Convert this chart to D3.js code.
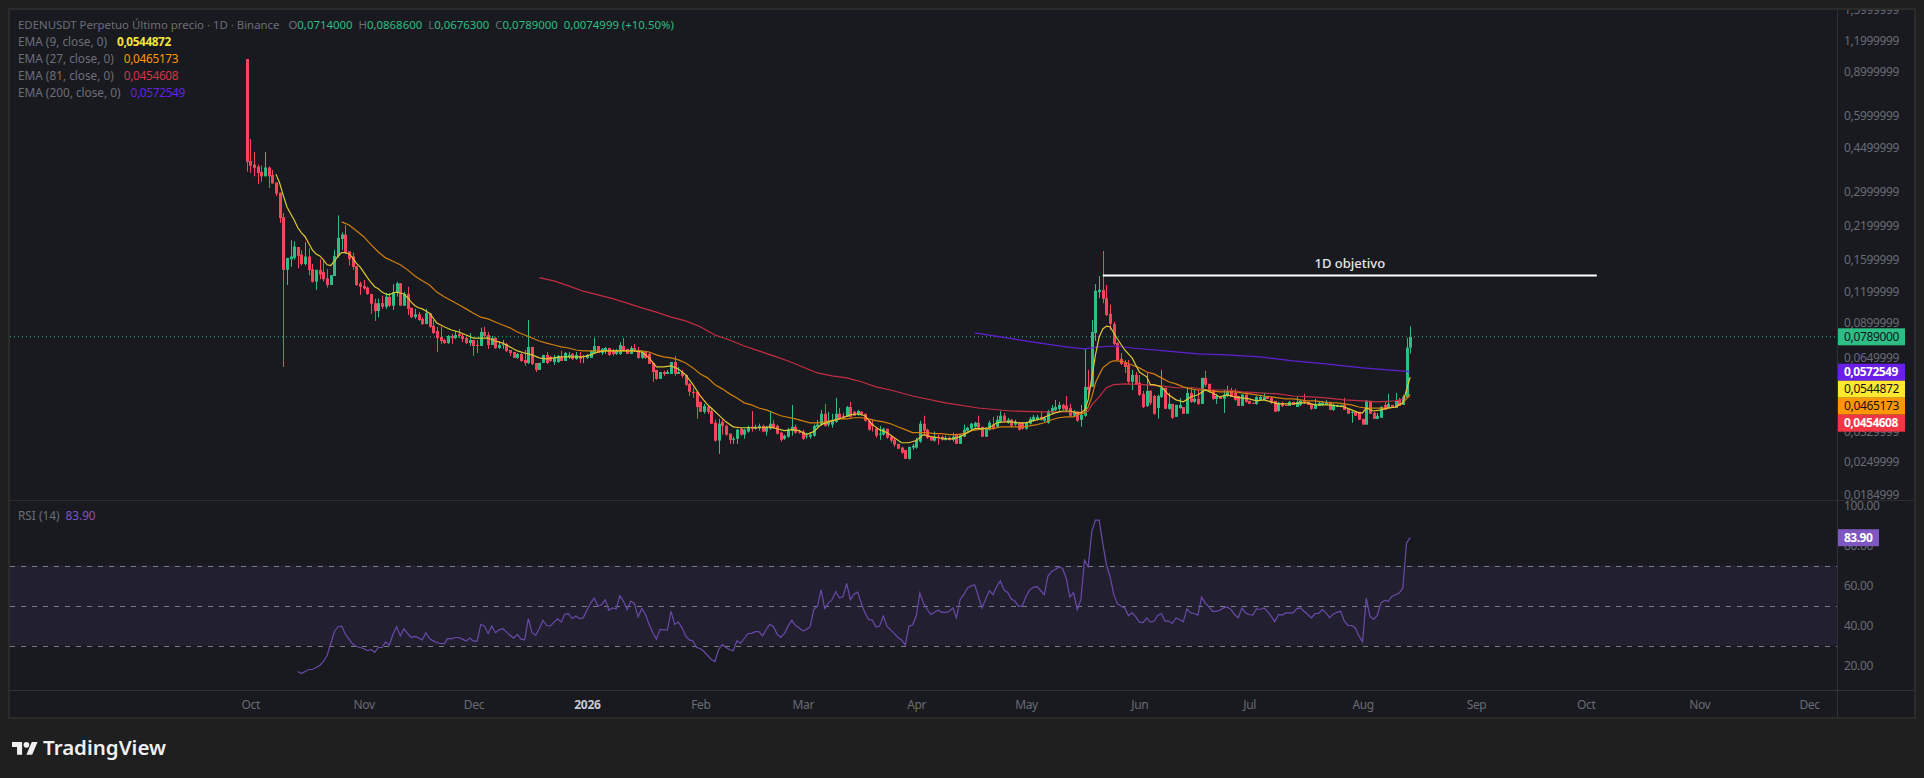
<!DOCTYPE html>
<html><head><meta charset="utf-8">
<script src="https://cdn.jsdelivr.net/npm/d3@7"></script>
<style>
html,body{margin:0;padding:0;background:#1f1f1f;overflow:hidden}
text{font-family:"Noto Sans",sans-serif}
</style></head><body>
<svg id="c" width="1924" height="778"></svg>
<script>
const opens=[
1.014,.397,.384,.377,.359,.345,.374,.349,.326,.297,
.237,.146,.161,.163,.180,.168,.154,.165,.147,.131,
.146,.143,.135,.127,.138,.166,.194,.202,.173,.165,
.151,.129,.126,.124,.117,.1075,.100,.1075,.104,.114,
.105,.118,.129,.105,.117,.103,.0945,.097,.0929,.0887,
.098,.0873,.0832,.0788,.0766,.0745,.0795,.078,.081,.0795,
.078,.0745,.0766,.0732,.0725,.0825,.0802,.0732,.078,.0712,
.0732,.0739,.0699,.0686,.065,.0674,.0638,.062,.0719,.062,
.0582,.0621,.0668,.0656,.0626,.0626,.0656,.0632,.0656,.0674,
.0644,.0662,.0656,.065,.065,.068,.0725,.068,.0693,.0712,
.0699,.0674,.0674,.0725,.0706,.0674,.0712,.0699,.065,.0686,
.0674,.062,.0582,.0536,.0571,.0561,.0561,.0626,.0561,.0571,
.0556,.0512,.0476,.0476,.0434,.0396,.0414,.0399,.0358,.0304,
.0361,.0348,.0324,.0306,.0309,.0339,.0321,.033,.0345,.0339,
.0342,.0348,.033,.0339,.0355,.0348,.0327,.0309,.0315,.0333,
.0345,.033,.033,.0315,.0315,.0318,.0345,.0352,.0389,.0352,
.0352,.0361,.0389,.0382,.0378,.0414,.0396,.0385,.0396,.0389,
.0365,.0355,.0339,.0321,.0321,.0339,.0315,.0306,.0295,.0285,
.0279,.0257,.0285,.0285,.0301,.0355,.0336,.0315,.0304,.0315,
.0315,.0306,.0312,.0306,.0321,.0295,.0315,.0333,.0339,.0345,
.0358,.0345,.0315,.0336,.0352,.0345,.0361,.0382,.0358,.0368,
.0352,.0358,.0358,.0339,.0355,.0365,.0368,.0378,.0365,.0358,
.0392,.0403,.0407,.0422,.0419,.041,.0382,.0396,.0368,.0382,
.0498,.0498,.0817,.119,.1215,.1125,.0975,.0887,.0745,.0644,
.062,.0609,.0522,.0556,.0517,.0467,.0418,.048,.0458,.041,
.0454,.0494,.0407,.0426,.0378,.041,.0414,.0389,.0471,.0434,
.0446,.0426,.0541,.0512,.0484,.0446,.0454,.0446,.0458,.048,
.0471,.0458,.0418,.0463,.0438,.043,.0426,.0442,.0442,.0454,
.045,.0438,.0399,.043,.0422,.0418,.0434,.0414,.0422,.0438,
.0434,.0426,.0407,.0418,.0422,.0422,.0434,.0403,.0414,.0418,
.0422,.0407,.0392,.0396,.0396,.0371,.0352,.0438,.0392,.0371,
.0375,.0422,.041,.0422,.041,.0442,.0422,.045,.0714];
const highs=[
1.014,.486,.431,.384,.381,.431,.377,.366,.326,.297,
.246,.163,.192,.190,.180,.175,.188,.178,.154,.146,
.161,.159,.147,.139,.175,.241,.206,.220,.173,.171,
.151,.131,.133,.125,.117,.112,.112,.115,.118,.118,
.128,.131,.129,.119,.125,.103,.102,.099,.0945,.102,
.098,.0921,.0865,.0865,.0773,.0802,.081,.0832,.0848,.081,
.0788,.0817,.0766,.0766,.0857,.0865,.0825,.0795,.0788,.0759,
.0766,.0745,.0699,.0686,.068,.068,.0699,.0921,.0719,.062,
.0621,.0668,.0686,.0662,.0668,.0668,.0693,.0686,.0686,.068,
.0686,.0686,.0668,.0674,.0693,.078,.0725,.0712,.0719,.0712,
.0706,.0706,.0752,.078,.0706,.0725,.0739,.0719,.0693,.0693,
.068,.062,.0582,.0571,.0577,.0582,.0626,.0662,.0598,.0582,
.0556,.0517,.0494,.0476,.0434,.0426,.0422,.041,.0368,.0371,
.0368,.0352,.0324,.0315,.0339,.0342,.0339,.0348,.0399,.0352,
.0355,.0352,.0348,.0396,.0368,.0352,.033,.0321,.0342,.0422,
.0352,.0336,.0336,.0327,.0327,.0352,.0368,.0403,.0426,.0396,
.0389,.045,.041,.0392,.0418,.0434,.0399,.0403,.0399,.0389,
.0365,.0368,.0342,.0348,.0342,.0339,.0318,.0312,.0295,.0287,
.0279,.0287,.0295,.0312,.0365,.0382,.0339,.0315,.033,.0321,
.0318,.0318,.0315,.0327,.0324,.0321,.0352,.0345,.0358,.0361,
.0382,.0345,.0342,.0365,.0378,.0382,.0399,.0392,.0375,.0371,
.0368,.0361,.0361,.0361,.0378,.0385,.0385,.0396,.0378,.0403,
.0422,.0442,.0434,.0426,.0458,.0426,.0403,.0399,.0422,.0706,
.0582,.0921,.128,.138,.1736,.127,.106,.0904,.0752,.068,
.0638,.0638,.0582,.0571,.0556,.048,.0566,.0484,.0463,.0463,
.0582,.0494,.0471,.0426,.0422,.045,.0414,.0498,.0498,.0484,
.0484,.0541,.0577,.0512,.0484,.0467,.0454,.0484,.0503,.0494,
.0489,.0458,.0467,.0476,.0438,.043,.0458,.0463,.0471,.0458,
.0454,.0438,.0434,.0434,.0422,.0438,.0434,.0454,.0442,.0467,
.0434,.0426,.0446,.0434,.0438,.0442,.0434,.0426,.0422,.0422,
.045,.0407,.0399,.0396,.0396,.0371,.0442,.0438,.0396,.0392,
.0418,.0434,.0467,.0422,.0471,.045,.0463,.078,.0868];
const lows=[
.36,.356,.345,.321,.328,.345,.31,.323,.288,.225,
.0598,.127,.150,.160,.148,.152,.152,.139,.130,.1215,
.134,.131,.124,.127,.138,.163,.175,.169,.152,.146,
.126,.116,.1215,.116,.0975,.0913,.0945,.102,.102,.104,
.101,.114,.105,.105,.0965,.0937,.093,.0913,.088,.0887,
.0857,.081,.0686,.0739,.0739,.0739,.0739,.0773,.078,.0752,
.0739,.0725,.0662,.068,.0725,.0788,.0706,.0732,.0706,.0706,
.0706,.0686,.0662,.065,.0644,.0626,.0604,.0615,.0609,.0571,
.0582,.0621,.0615,.0626,.0609,.062,.0632,.0632,.0644,.0638,
.0638,.062,.062,.0644,.065,.068,.068,.0668,.0674,.0662,
.0662,.0668,.0668,.0693,.0674,.0674,.0686,.0644,.0644,.0644,
.0615,.0522,.0531,.0536,.0551,.0561,.0561,.0551,.0561,.0541,
.0503,.0458,.045,.0371,.0396,.0389,.0389,.0355,.0301,.0269,
.0321,.0318,.0295,.0295,.0295,.0318,.0309,.0327,.033,.0336,
.0333,.033,.0318,.0336,.0339,.0321,.0301,.0306,.0312,.0318,
.0324,.0324,.0306,.0309,.0309,.0315,.0342,.0348,.0345,.0345,
.0342,.0358,.0368,.0371,.0378,.0375,.0382,.0382,.0382,.0361,
.0333,.033,.0312,.0306,.0318,.0309,.0298,.0287,.0282,.0269,
.0257,.0255,.0279,.0282,.0298,.0318,.0309,.0304,.0301,.0293,
.0304,.0304,.0304,.0301,.0295,.0295,.0315,.033,.0333,.0342,
.0339,.0315,.0315,.0333,.0336,.0342,.0358,.0361,.0355,.0345,
.0348,.0333,.0336,.0336,.0352,.0361,.0365,.0365,.0361,.0355,
.0389,.0399,.0399,.0403,.0399,.0378,.0378,.0361,.0345,.0378,
.0454,.0498,.076,.1125,.1075,.0955,.084,.0732,.0632,.0609,
.0566,.0508,.0484,.0508,.0458,.041,.0414,.0422,.0385,.0371,
.045,.0407,.0403,.0371,.0378,.0407,.0389,.0389,.043,.043,
.0422,.0426,.0498,.0471,.0442,.0426,.0446,.0392,.0454,.0454,
.0438,.0418,.0418,.043,.0426,.0426,.0422,.0442,.0442,.0446,
.0426,.0396,.0396,.0414,.0418,.0418,.0422,.0414,.0418,.0426,
.0422,.0403,.0407,.0418,.0418,.0422,.0403,.0399,.0414,.0418,
.0403,.0389,.0358,.0382,.0368,.0352,.0352,.0389,.0371,.0371,
.0375,.0403,.041,.041,.041,.0418,.0422,.045,.0676];
const closes=[
.394,.380,.373,.356,.345,.374,.345,.323,.294,.235,
.146,.163,.165,.181,.166,.154,.165,.146,.131,.146,
.140,.134,.127,.139,.166,.196,.202,.172,.161,.150,
.127,.125,.123,.117,.107,.100,.1075,.104,.114,.105,
.119,.129,.105,.117,.102,.0945,.097,.0921,.0887,.098,
.0865,.0817,.078,.0759,.0745,.0795,.078,.0802,.0795,.0773,
.0745,.0766,.0725,.0725,.0825,.0795,.0732,.078,.0712,.0732,
.0739,.0693,.068,.065,.0674,.0632,.062,.0719,.0615,.0582,
.0621,.0668,.062,.0632,.065,.0662,.0632,.068,.0668,.0644,
.0668,.0644,.0662,.0668,.0693,.0725,.068,.0706,.0712,.0668,
.0674,.0699,.0732,.0699,.0674,.0712,.0693,.065,.0686,.065,
.0615,.0571,.0536,.0571,.0561,.0571,.0626,.0561,.0571,.0551,
.0508,.0476,.0471,.0414,.0396,.0418,.0396,.0355,.0304,.0355,
.0348,.0321,.0306,.0309,.0336,.0321,.0336,.0345,.0339,.0345,
.0348,.033,.0345,.0355,.0342,.0324,.0306,.0318,.0336,.0345,
.0327,.0327,.0309,.0318,.0321,.0348,.0352,.0389,.0348,.0365,
.0368,.0389,.0371,.0375,.0414,.0378,.0382,.0399,.0385,.0365,
.0336,.0348,.0318,.0324,.0339,.0312,.0304,.0293,.0282,.0272,
.0257,.0287,.029,.0306,.0355,.0333,.0312,.0304,.0315,.0312,
.0306,.0312,.0306,.0315,.0295,.0321,.0336,.0342,.0355,.0358,
.0342,.0315,.0339,.0358,.0339,.0368,.0382,.0365,.0368,.0348,
.0361,.0336,.0339,.0358,.0371,.0378,.0378,.0368,.0375,.0399,
.041,.0414,.0422,.0407,.0403,.0382,.0396,.0365,.0385,.0498,
.0484,.0825,.1204,.1215,.112,.0965,.0889,.0739,.0638,.0615,
.0598,.0522,.0556,.0512,.0463,.0414,.048,.043,.0389,.0458,
.0494,.0407,.0426,.0375,.0422,.0422,.0389,.0471,.0434,.0446,
.0426,.0541,.0508,.0476,.0446,.0458,.0446,.0463,.048,.0454,
.0442,.0418,.0463,.0434,.0426,.0426,.0454,.0454,.0454,.0446,
.043,.0396,.043,.0418,.0418,.0434,.0422,.0434,.0438,.043,
.0422,.0407,.0426,.043,.043,.0434,.0403,.0422,.0422,.0422,
.0403,.0389,.0396,.0382,.0368,.0352,.0438,.0389,.0371,.0382,
.0414,.0403,.0426,.041,.0438,.0418,.0454,.0714,.0789];

const ema9Days=[8,9,10,11,12,13,14,15,16,17,18,19,20,21,22,23,24,25,26,27,28,29,30,31,32,33,34,35,36,37,38,39,40,41,42,43,44,45,46,47,48,49,50,52,54,56,58,60,62,64,66,68,70,72,74,76,78,80,82,84,86,88,90,92,94,96,98,100,102,104,106,108,110,112,114,116,118,120,122,124,126,127,129,131,133,135,137,139,141,143,145,147,149,151,153,155,157,159,161,163,165,167,169,171,173,175,177,179,181,183,185,187,189,191,193,195,197,199,201,203,205,207,209,211,213,215,217,219,221,223,225,227,228,229,230,231,232,233,234,235,236,237,238,240,242,244,246,247,248,250,252,254,256,258,260,262,264,266,268,270,272,274,276,278,280,282,284,286,288,290,292,294,296,298,300,302,304,305,306,308,310,312,314,316,317,318];
const ema9Values=[.352,.325,.290,.261,.245,.231,.215,.205,.198,.186,.175,.169,.166,.160,.153,.152,.158,.166,.171,.171,.169,.163,.155,.150,.143,.136,.130,.125,.1227,.119,.117,.116,.118,.119,.118,.117,.113,.1085,.105,.103,.102,.100,.098,.0895,.0865,.084,.0825,.0802,.078,.078,.078,.0759,.0745,.0719,.0693,.068,.0668,.065,.0644,.065,.0656,.0656,.0656,.0656,.0668,.0686,.0693,.0693,.0693,.0693,.0693,.0686,.065,.0598,.0598,.0604,.0587,.0556,.0508,.0458,.0422,.041,.0385,.0361,.0345,.0342,.0342,.0342,.0342,.0345,.0339,.0333,.0336,.0333,.0321,.033,.0352,.0361,.0368,.0375,.0385,.0389,.0382,.0352,.0336,.0327,.0312,.0298,.0298,.0304,.0321,.0315,.0312,.0309,.0309,.0315,.0327,.0339,.0339,.0342,.0358,.0361,.0361,.0358,.0358,.0365,.0371,.0382,.0392,.0399,.0399,.0392,.0392,.0403,.0442,.0541,.0668,.0788,.0848,.0871,.0865,.0817,.0773,.0699,.065,.0571,.0546,.0508,.0508,.0498,.0463,.0442,.0434,.0454,.0463,.0484,.0471,.0454,.0463,.0454,.045,.0446,.0438,.0442,.0434,.0426,.0426,.0426,.043,.043,.0422,.0422,.0422,.0418,.0414,.0403,.0392,.0392,.041,.0399,.0403,.041,.0414,.043,.0484,.0544872];

const ema27Days=[26,28,30,32,34,36,38,40,42,44,46,48,50,52,54,56,58,60,62,64,66,68,70,72,74,76,78,80,82,84,86,88,90,92,94,98,102,106,108,110,112,114,116,118,120,122,124,126,128,130,132,134,136,138,140,142,146,150,154,156,158,160,162,164,166,168,170,172,174,176,178,180,182,184,186,188,190,192,194,196,198,200,202,204,206,208,210,212,214,216,218,220,222,224,226,228,229,230,231,232,233,234,236,237,238,240,242,244,246,248,250,252,254,256,258,260,262,264,266,268,270,272,274,276,278,280,282,284,286,288,290,292,294,296,298,300,302,304,306,308,310,312,314,316,317,318];
const ema27Values=[.227,.2205,.209,.198,.184,.172,.163,.158,.153,.146,.138,.132,.127,.119,.114,.110,.106,.102,.098,.0945,.093,.0904,.0879,.0857,.0825,.0802,.078,.0759,.0745,.0732,.0719,.0712,.0699,.0693,.0693,.0693,.0693,.0693,.0693,.0686,.0668,.0656,.065,.0638,.062,.0593,.0561,.0541,.0508,.0489,.0467,.045,.043,.0422,.041,.0403,.0382,.0371,.0358,.0358,.0361,.0365,.0371,.0371,.0375,.0375,.0371,.0365,.0361,.0355,.0345,.0336,.0327,.0327,.0327,.0324,.0324,.0321,.0321,.0324,.0333,.0336,.0339,.0339,.0345,.0345,.0345,.0345,.0348,.0352,.0358,.0368,.0375,.0378,.0378,.0389,.0392,.0414,.0454,.0517,.0556,.0593,.0626,.0632,.0632,.0626,.0609,.0593,.0571,.0561,.0541,.0522,.0512,.0498,.0489,.0484,.0484,.048,.0476,.0476,.0476,.0471,.0467,.0463,.0458,.0454,.045,.0446,.0446,.0442,.0438,.0438,.0434,.043,.043,.0426,.0422,.0414,.041,.041,.041,.041,.0414,.043,.0446,.0465173];

const ema81Days=[80,84,88,92,96,100,104,108,112,116,120,124,128,132,136,140,144,148,152,156,160,164,168,172,176,182,191,200,209,218,227,229,230,231,233,235,237,240,245,250,254,259,263,268,272,277,282,286,291,295,300,305,309,314,316,318];
const ema81Values=[.136,.132,.126,.120,.116,.112,.1075,.103,.099,.0945,.0913,.0865,.0802,.0766,.0725,.0693,.0662,.0632,.0598,.0566,.0551,.0541,.0522,.0498,.0484,.0458,.043,.041,.0399,.0396,.0396,.0392,.0399,.0422,.0454,.0494,.0508,.0512,.0508,.0503,.0494,.0494,.0484,.0484,.0476,.0471,.0467,.0458,.0454,.045,.0442,.0438,.0434,.0438,.0446,.0454608];

const ema200Days=[199,206,215,224,229,233,238,242,251,260,268,277,286,295,305,317,318];
const ema200Values=[.0818,.0788,.0752,.0719,.0706,.0719,.0725,.0712,.0693,.0674,.0668,.0656,.0632,.0615,.0593,.0574,.0572549];

const rsiFirstDay=14;
const rsiValues=[17,16,17,18,18,19,
20,22,25,31,37,39.4,39.7,35.6,33.2,30.7,
29.5,29,28.5,27.4,28,26.6,29,29,31.8,30.2,
35.6,39.4,34.8,38.4,36,34,34.5,33.8,32.8,36.4,
33.5,32.3,31.5,31,30.9,33.5,33.3,34,34,33.2,
32.2,33.7,32.2,32.2,40.6,39.7,36,39.7,36.4,37.8,
38.4,36.8,35.1,33.7,35.6,33.2,32.8,43.4,36.4,35.1,
38.4,42.5,40,39.7,41.7,43.4,41.7,45.7,45.8,43.5,
44.7,43.4,43.8,47.6,51.2,53.7,49.6,50.4,52.9,47.6,
48.8,48.3,54.9,52.1,48,52.2,50.9,44.3,48.5,45.5,
40.6,36.4,33.2,38,37.8,37.8,47.1,40.6,41.7,38.9,
34.8,32.8,32.3,29,28.5,27,25,23,22,28,
30.4,29,28,27.4,32.3,31.2,33.5,36,36.1,36.9,
36.9,34.8,38,40.6,39.4,35.6,34,36,39.7,42.7,
40,38.9,37.3,38,39.4,48,49.6,57.8,48.5,51.2,
52.9,57,53.7,54.5,61,52.9,55.7,56.7,51.2,46.3,
43,42.7,39.2,39.7,44.7,39.7,37.8,36.1,34,32.8,
30.2,39.7,40.2,44.7,56.2,51.2,48,45.5,46.6,47.6,
46.6,46.6,47,48.8,43.8,52.9,55.4,58.7,59.8,60.3,
54.5,48.8,53.2,57.5,55.4,59.5,62.3,57.8,56.5,53.2,
52.1,49.6,49.8,54.5,57.8,59.1,59.5,57.5,55.4,64.7,
67,68,69.3,68.5,63.6,54.2,56.5,48,52.9,72.6,
69.3,87.1,92.7,92.7,80.9,70.2,64.4,55.4,50.9,49.6,
48.8,45,46.3,44.3,41.7,41.4,43.8,41.7,42.2,45,
46,42.2,42.2,41,43.8,43,41.9,48.3,46.3,46,
45.2,54.2,51.2,49.3,47.1,47.1,47.6,48.8,49.3,48,
45.5,43.8,48.8,46.3,45.5,45.2,48.3,48,48.8,47.1,
44.7,41.9,45.5,45.2,46.3,46.3,46.3,48.3,48.8,47.1,
45.5,43.8,46,46,48,46.3,43.8,45.8,46.6,47.1,
42.2,40,40,38.9,34.8,31.8,53.7,44.7,43,45,
51.2,52.6,52.1,54.5,55.4,56.2,58.7,81.2,83.9];

const priceTicks=[1.5999999,1.1999999,.8999999,.5999999,.4499999,.2999999,.2199999,.1599999,.1199999,.0899999,.0649999,.0329999,.0249999,.0184999];
const rsiTicks=[100,80,60,40,20];
const rsiLevels=[70,50,30];
const monthTicks=["2025-10-01","2025-11-01","2025-12-01","2026-01-01","2026-02-01","2026-03-01","2026-04-01","2026-05-01","2026-06-01","2026-07-01","2026-08-01","2026-09-01","2026-10-01","2026-11-01","2026-12-01"];
const monthLabels=["Oct","Nov","Dec","2026","Feb","Mar","Apr","May","Jun","Jul","Aug","Sep","Oct","Nov","Dec"];
const lastPrice=.0789, targetPrice=.1386, targetStartDay=234, targetEndDay=369;
const emaNames=["EMA (9, close, 0)","EMA (27, close, 0)","EMA (81, close, 0)","EMA (200, close, 0)"];
const emaLast=[.0544872,.0465173,.0454608,.0572549];
const ohlcParts=[["O","0,0714000"],["H","0,0868600"],["L","0,0676300"],["C","0,0789000"]];

const GREEN="#2ebd85",RED="#f6465d",
  EMA_LEG=["#f5e33b","#ff9800","#d9304a","#6420e8"],
  EMA_LINE=["#dcc832","#d07f0c","#c42c44","#5f20d4"];
const L=10,R=1914,T=10,B=717,AX=1837,PANE=500,TAX=690;

const svg=d3.select("#c");
const toDate=i=>d3.utcDay.offset(new Date(Date.UTC(2025,8,30)),i);
const x=d3.scaleUtc().domain([new Date(Date.UTC(2025,8,30)),new Date(Date.UTC(2026,11,1))]).range([246.6,1809]);
const xd=i=>x(toDate(i));
const y=d3.scaleLog().domain([1.2,.0185]).range([40.7,494.6]);
const yR=d3.scaleLinear().domain([100,0]).range([505.5,705.5]);

svg.append("rect").attr("width",1924).attr("height",778).attr("fill","#1f1f1f");
svg.append("rect").attr("x",L-1).attr("y",T-1).attr("width",R-L+2).attr("height",B-T+2).attr("fill","#191a1f").attr("stroke","#2b2b2b").attr("stroke-width",2);

const defs=svg.append("defs");
defs.append("clipPath").attr("id","pc").append("rect").attr("x",L).attr("y",T).attr("width",AX-L).attr("height",PANE-T);
defs.append("clipPath").attr("id","ac").append("rect").attr("x",AX).attr("y",T).attr("width",R-AX).attr("height",TAX-T);

// RSI pane
const rp=svg.append("g");
rp.append("rect").attr("x",L).attr("width",AX-L).attr("y",yR(70)).attr("height",yR(30)-yR(70)).attr("fill","#221f31");
rp.selectAll("line.lv").data(rsiLevels).join("line").attr("x1",L).attr("x2",AX).attr("y1",d=>Math.round(yR(d))+.5).attr("y2",d=>Math.round(yR(d))+.5)
  .attr("stroke","#787b86").attr("stroke-dasharray","5 6").attr("stroke-width",1);
rp.append("path").datum(rsiValues).attr("fill","none").attr("stroke","#6a4aa8").attr("stroke-width",1.2)
  .attr("d",d3.line().x((d,i)=>xd(i+rsiFirstDay)).y(d=>yR(d)));

// price pane
const pp=svg.append("g").attr("clip-path","url(#pc)");
pp.append("line").attr("x1",L).attr("x2",AX).attr("y1",y(lastPrice)).attr("y2",y(lastPrice)).attr("stroke",GREEN).attr("stroke-dasharray","1 3").attr("stroke-width",1);
const idx=d3.range(closes.length);
const col=i=>closes[i]>=opens[i]?GREEN:RED;
pp.selectAll("line.w").data(idx).join("line").attr("x1",i=>Math.round(xd(i))+.5).attr("x2",i=>Math.round(xd(i))+.5)
  .attr("y1",i=>y(highs[i])).attr("y2",i=>y(lows[i])).attr("stroke",col).attr("stroke-width",1);
pp.selectAll("rect.b").data(idx).join("rect").attr("x",i=>Math.round(xd(i))-1).attr("width",3)
  .attr("y",i=>y(Math.max(opens[i],closes[i]))).attr("height",i=>Math.max(1,Math.abs(y(opens[i])-y(closes[i])))).attr("fill",col);
const ln=d3.line().x(d=>xd(d[0])).y(d=>y(d[1]));
[[ema200Days,ema200Values,3],[ema81Days,ema81Values,2],[ema27Days,ema27Values,1],[ema9Days,ema9Values,0]].forEach(([ds,vs,k])=>{
  pp.append("path").datum(ds.map((d,i)=>[d,vs[i]])).attr("fill","none").attr("stroke",EMA_LINE[k]).attr("stroke-width",1.2).attr("d",ln);
});
pp.append("line").attr("x1",xd(targetStartDay)).attr("x2",xd(targetEndDay)).attr("y1",y(targetPrice)).attr("y2",y(targetPrice)).attr("stroke","#fff").attr("stroke-width",2);
pp.append("text").attr("x",(xd(targetStartDay)+xd(targetEndDay))/2).attr("y",y(targetPrice)-8).attr("text-anchor","middle").attr("fill","#e8e8e8").attr("font-size",13).attr("font-weight",500).text("1D objetivo");

// separators
svg.append("line").attr("x1",L).attr("x2",R).attr("y1",PANE+.5).attr("y2",PANE+.5).attr("stroke","#2d2d2f");
svg.append("line").attr("x1",L).attr("x2",R).attr("y1",TAX+.5).attr("y2",TAX+.5).attr("stroke","#2e323c");
svg.append("line").attr("x1",AX+.5).attr("x2",AX+.5).attr("y1",T).attr("y2",B).attr("stroke","#2e323c");

// axes
const TICK="#686b75",AFS=12,ALS="-.35px";
function styleAxis(g){g.select(".domain").remove();g.selectAll("text").attr("fill",TICK).attr("font-size",AFS).attr("letter-spacing",ALS).attr("font-family",'"Noto Sans",sans-serif');}
const axg=svg.append("g").attr("clip-path","url(#ac)");
axg.append("g").attr("transform",`translate(${AX},0)`).call(d3.axisRight(y).tickValues(priceTicks).tickSize(0).tickPadding(7).tickFormat(d=>d.toFixed(7).replace(".",","))).call(styleAxis);
axg.append("g").attr("transform",`translate(${AX},0)`).call(d3.axisRight(yR).tickValues(rsiTicks).tickSize(0).tickPadding(7).tickFormat(d=>d.toFixed(2))).call(styleAxis);
const tv=monthTicks.map(s=>new Date(s+"T00:00:00Z"));
const tax=svg.append("g").attr("transform",`translate(0,${TAX})`).call(d3.axisBottom(x).tickValues(tv).tickSize(0).tickPadding(10).tickFormat((d,i)=>monthLabels[i])).call(styleAxis);
tax.selectAll("text").filter((d,i)=>monthLabels[i]==="2026").attr("fill","#c8cad0").attr("font-weight",700);

// price labels
function box(yTop,w,fill,txtFill,label,bold){
  const g=svg.append("g");
  g.append("rect").attr("x",AX+1).attr("y",yTop).attr("width",w).attr("height",17).attr("fill",fill);
  g.append("text").attr("x",AX+7).attr("y",yTop+8.5).attr("dy",".35em").attr("fill",txtFill).attr("font-size",AFS).attr("letter-spacing",bold?"-.5px":ALS).attr("font-weight",bold?700:400).text(label);
}
const fmt=v=>v.toFixed(7).replace(".",",");
box(y(lastPrice)-8.5,67,GREEN,"#10141a",fmt(lastPrice));
const stackTop=y(emaLast[3])-8;
box(stackTop,67,"#6a1fe8","#fff",fmt(emaLast[3]),true);
box(stackTop+17,67,"#ffe930","#10141a",fmt(emaLast[0]));
box(stackTop+34,67,"#ff9800","#10141a",fmt(emaLast[1]));
box(stackTop+51,67,"#f23645","#fff",fmt(emaLast[2]),true);
box(yR(83.9)-8.5,41,"#7e57c2","#fff","83.90",true);

// legend
const LEG="#6b6e78",fs=11.8;
const t=svg.append("text").attr("x",18).attr("y",29).attr("font-size",11.4).attr("fill",LEG);
t.append("tspan").text("EDENUSDT Perpetuo Último precio · 1D · Binance");
ohlcParts.forEach(([a,b],i)=>{t.append("tspan").attr("dx",i?6:9).text(a);t.append("tspan").attr("fill",GREEN).text(b);});
t.append("tspan").attr("dx",6).attr("fill",GREEN).text("0,0074999 (+10.50%)");
[0,1,2,3].forEach(k=>{
  const r=svg.append("text").attr("x",18).attr("y",46+k*17).attr("font-size",fs).attr("fill",LEG);
  r.append("tspan").text(emaNames[k]);
  r.append("tspan").attr("dx",10).attr("letter-spacing",k===0?"-.4px":"-.3px").attr("fill",EMA_LEG[k]).attr("font-weight",k===0?700:400).text(fmt(emaLast[k]));
});
const rl=svg.append("text").attr("x",18).attr("y",520).attr("font-size",fs).attr("fill",LEG);
rl.append("tspan").text("RSI (14)");
rl.append("tspan").attr("dx",6).attr("fill","#7e57c2").text("83.90");

// watermark
const wm=svg.append("g").attr("transform","translate(12,739) scale(.72)").attr("fill","#f0f0f0");
wm.append("path").attr("d","M14 22H7V11H0V4h14v18zM28 22h-8l7.5-18h8L28 22z");
wm.append("circle").attr("cx",20).attr("cy",8).attr("r",4);
svg.append("text").attr("x",43).attr("y",755).attr("fill","#f0f0f0").attr("font-size",20.5).attr("font-weight",600).attr("font-family","Inter,sans-serif").text("TradingView");
</script>
</body></html>
